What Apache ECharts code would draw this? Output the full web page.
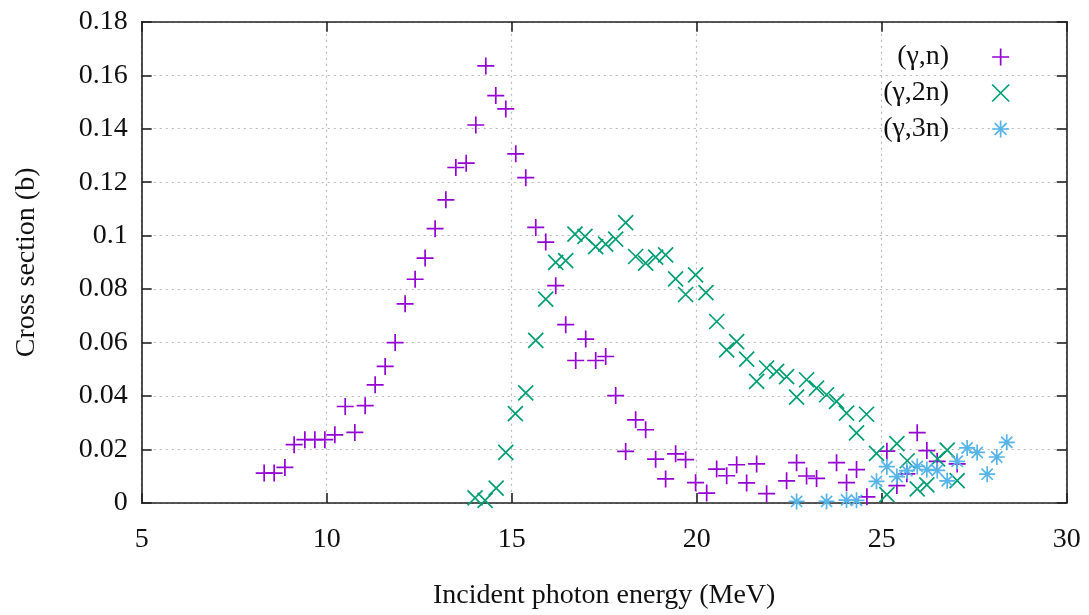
<!DOCTYPE html>
<html>
<head>
<meta charset="utf-8">
<script src="https://cdn.jsdelivr.net/npm/echarts@6/dist/echarts.min.js"></script>
<style>html,body{margin:0;padding:0;background:#fff}#c{width:1089px;height:615px}</style>
</head>
<body>
<div id="c"></div>
<script>
// (γ,n)
const gnEnergy = [8.31,8.58,8.87,9.12,9.41,9.68,9.95,10.22,10.50,10.76,11.04,11.31,11.58,11.85,12.12,12.39,12.66,12.93,13.22,13.49,13.77,14.03,14.30,14.57,14.84,15.11,15.38,15.65,15.92,16.19,16.46,16.73,17.00,17.27,17.54,17.81,18.08,18.35,18.62,18.89,19.16,19.43,19.70,19.97,20.27,20.54,20.81,21.08,21.35,21.62,21.89,22.43,22.70,22.97,23.24,23.78,24.05,24.32,24.60,25.14,25.41,25.68,25.96,26.22,26.50,27.04];
const gnValue = [0.0112,0.0112,0.0133,0.0218,0.0237,0.0237,0.0237,0.0255,0.0361,0.0264,0.0364,0.0442,0.0511,0.0600,0.0745,0.0837,0.0916,0.1026,0.1134,0.1255,0.1271,0.1414,0.1635,0.1524,0.1474,0.1306,0.1217,0.1031,0.0976,0.0813,0.0667,0.0533,0.0613,0.0533,0.0548,0.0402,0.0193,0.0311,0.0274,0.0164,0.0090,0.0184,0.0162,0.0076,0.0037,0.0127,0.0102,0.0143,0.0075,0.0146,0.0035,0.0083,0.0151,0.0101,0.0092,0.0151,0.0076,0.0125,0.0023,0.0194,0.0065,0.0109,0.0263,0.0196,0.0156,0.0146];
// (γ,2n)
const g2nEnergy = [14.01,14.28,14.58,14.84,15.10,15.38,15.65,15.92,16.19,16.46,16.71,16.98,17.27,17.54,17.81,18.08,18.35,18.62,18.89,19.16,19.43,19.70,19.97,20.25,20.54,20.81,21.08,21.35,21.62,21.89,22.16,22.43,22.70,22.97,23.24,23.51,23.78,24.05,24.32,24.59,24.86,25.14,25.41,25.69,25.96,26.22,26.51,26.77,27.04];
const g2nValue = [0.0019,0.0010,0.0056,0.0189,0.0334,0.0412,0.0608,0.0763,0.0900,0.0907,0.1006,0.0997,0.0959,0.0968,0.0987,0.1049,0.0922,0.0897,0.0920,0.0928,0.0838,0.0780,0.0853,0.0787,0.0679,0.0573,0.0604,0.0538,0.0455,0.0505,0.0492,0.0473,0.0396,0.0461,0.0430,0.0405,0.0380,0.0336,0.0262,0.0332,0.0186,0.0031,0.0222,0.0158,0.0053,0.0068,0.0165,0.0198,0.0084];
// (γ,3n)
const g3nEnergy = [22.70,23.51,24.05,24.32,24.86,25.14,25.41,25.68,25.96,26.22,26.50,26.77,27.04,27.31,27.58,27.85,28.11,28.38];
const g3nValue = [0.0006,0.0006,0.0011,0.0010,0.0081,0.0136,0.0099,0.0121,0.0137,0.0125,0.0122,0.0083,0.0156,0.0206,0.0189,0.0108,0.0172,0.0227];

const seriesNames = ['(γ,n)', '(γ,2n)', '(γ,3n)'];
const xTitle = 'Incident photon energy (MeV)';
const yTitle = 'Cross section (b)';

const zip = (a, b) => a.map((v, i) => [v, b[i]]);
const FONT = '"Liberation Serif", "DejaVu Serif", serif';
const FS = 28;

const PLUS = 'path://M0,6L12,6M6,0L6,12';
const CROSS = 'path://M0,0L10,10M0,10L10,0';
const STAR = 'path://M5,0L5,10M0,5L10,5M1.5,1.5L8.5,8.5M1.5,8.5L8.5,1.5';

function mk(name, data, symbol, size, color) {
  return {
    name, type: 'scatter', data, symbol, symbolSize: size,
    xAxisIndex: 0, yAxisIndex: 0,
    itemStyle: { color: color, borderColor: color, borderWidth: 1.7, opacity: 1 },
    emphasis: { disabled: true }
  };
}

const grid = { left: 141.7, right: 22.3, top: 21.8, bottom: 111.7 };
const axisLine = { show: true, onZero: false, lineStyle: { color: '#222', width: 1.6 } };
const split = { show: true, lineStyle: { color: '#b8b8b8', type: [2, 4], width: 1.2 } };
const tick = { show: true, inside: true, length: 10, lineStyle: { color: '#222', width: 1.6 } };

const chart = echarts.init(document.getElementById('c'), null, { renderer: 'canvas' });
chart.setOption({
  animation: false,
  backgroundColor: '#fff',
  grid,
  legend: {
    orient: 'vertical', align: 'right', right: 74, top: 38, itemGap: 8,
    itemWidth: 17, itemHeight: 17,
    data: seriesNames,
    itemStyle: { borderWidth: 1.7 },
    textStyle: { fontFamily: FONT, fontSize: FS, color: '#111', width: 100, align: 'right', padding: [0, 38, 0, 0] }
  },
  xAxis: [
    { type: 'value', min: 5, max: 30, interval: 5, position: 'bottom',
      axisLine, axisTick: tick, splitLine: split,
      axisLabel: { fontFamily: FONT, fontSize: FS, color: '#111', margin: 23 },
      name: xTitle, nameLocation: 'middle', nameGap: 79,
      nameTextStyle: { fontFamily: FONT, fontSize: FS, color: '#111' } },
    { type: 'value', min: 5, max: 30, interval: 5, position: 'top',
      axisLine, axisTick: tick, splitLine: { show: false }, axisLabel: { show: false } }
  ],
  yAxis: [
    { type: 'value', min: 0, max: 0.18, interval: 0.02, position: 'left',
      axisLine, axisTick: tick, splitLine: split,
      axisLabel: { fontFamily: FONT, fontSize: FS, color: '#111', margin: 14 },
      name: yTitle, nameLocation: 'middle', nameGap: 101,
      nameTextStyle: { fontFamily: FONT, fontSize: FS, color: '#111' } },
    { type: 'value', min: 0, max: 0.18, interval: 0.02, position: 'right',
      axisLine, axisTick: tick, splitLine: { show: false }, axisLabel: { show: false } }
  ],
  series: [
    mk(seriesNames[0], zip(gnEnergy, gnValue), PLUS, 17, '#9400d3'),
    mk(seriesNames[1], zip(g2nEnergy, g2nValue), CROSS, 15, '#009e73'),
    mk(seriesNames[2], zip(g3nEnergy, g3nValue), STAR, 16, '#56b4e9')
  ]
});
</script>
</body>
</html>
